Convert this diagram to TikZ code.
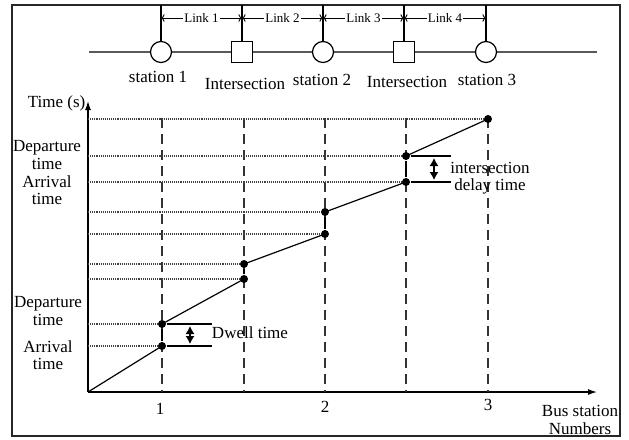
\documentclass[tikz,border=0pt]{standalone}
\usepackage{fontspec}
\setmainfont{Liberation Serif}
\usetikzlibrary{arrows.meta}

\tikzset{
  stn/.style={draw,circle,minimum size=21pt,inner sep=0pt,fill=white},
  isect/.style={draw,rectangle,minimum size=21pt,inner sep=0pt,fill=white},
  pt/.style={circle,fill,inner sep=0pt,minimum size=8pt},
  guide/.style={dash pattern=on 10pt off 6pt,line width=1.2pt,black!80},
  level/.style={densely dotted,line width=1.1pt,black!75},
  span/.style={{Latex[length=8pt,width=9pt]}-{Latex[length=8pt,width=9pt]}},
  lbl/.style={font=\fontsize{17}{17.5}\selectfont,align=center,inner sep=0pt},
  linklbl/.style={font=\fontsize{13}{14}\selectfont,fill=white,inner sep=1pt},
}

\begin{document}
\begin{tikzpicture}[x=1pt,y=-1pt,line width=1.2pt]

\useasboundingbox (0,0) rectangle (629,439);
\draw[black!85] (12,5) rectangle (620,436);

% the road
\draw[black!65,line width=1.6pt] (89,52) -- (597,52);
\node[stn] (s1) at (161,52) {};
\node[isect] (i1) at (242,52) {};
\node[stn] (s2) at (323,52) {};
\node[isect] (i2) at (404,52) {};
\node[stn] (s3) at (486,52) {};

\coordinate (t1) at (161,5);
\coordinate (t2) at (242,5);
\coordinate (t3) at (323,5);
\coordinate (t4) at (404,5);
\coordinate (t5) at (486,5);
\draw (s1.north) -- (t1);
\draw (i1.north) -- (t2);
\draw (s2.north) -- (t3);
\draw (i2.north) -- (t4);
\draw (s3.north) -- (t5);

\coordinate (a1) at (161,18);
\coordinate (a2) at (242,18);
\coordinate (a3) at (323,18);
\coordinate (a4) at (404,18);
\coordinate (a5) at (486,18);
\draw[{To}-{To},line width=0.9pt] (a1) -- node[linklbl] (l1) {Link 1} (a2);
\draw[{To}-{To},line width=0.9pt] (a2) -- node[linklbl] (l2) {Link 2} (a3);
\draw[{To}-{To},line width=0.9pt] (a3) -- node[linklbl] (l3) {Link 3} (a4);
\draw[{To}-{To},line width=0.9pt] (a4) -- node[linklbl] (l4) {Link 4} (a5);

\node[lbl] (n1) at (158,77) {station 1};
\node[lbl] (n2) at (245,84) {Intersection};
\node[lbl] (n3) at (322,80) {station 2};
\node[lbl] (n4) at (407,82) {Intersection};
\node[lbl] (n5) at (487,80) {station 3};

% axes
\coordinate (O) at (88,392);
\coordinate (xend) at (597,392);
\coordinate (yend) at (88,101);
\draw[-{Latex[length=9pt,width=6pt]}] (O) -- (xend);
\draw[-{Latex[length=9pt,width=6pt]}] (O) -- (yend);

\node[lbl,anchor=east] (ty) at (86,103) {Time (s)};
\node[lbl] (x1) at (160,409) {1};
\node[lbl] (x2) at (325,407) {2};
\node[lbl] (x3) at (488,405) {3};
\node[lbl] (xl) at (580,420) {Bus station\\Numbers};

% guide lines
\foreach \gx in {162,244,325,406,488}
  \draw[guide] (\gx,118) -- (\gx,392);

% arrival / departure points
\node[pt] (p1a) at (162,346) {};
\node[pt] (p1d) at (162,324) {};
\node[pt] (p2a) at (244,279) {};
\node[pt] (p2d) at (244,264) {};
\node[pt] (p3a) at (325,234) {};
\node[pt] (p3d) at (325,212) {};
\node[pt] (p4a) at (406,182) {};
\node[pt] (p4d) at (406,156) {};
\node[pt] (p5) at (488,119) {};

\foreach \p in {p1a,p1d,p2a,p2d,p3a,p3d,p4a,p4d,p5}
  \draw[level] (O |- \p) -- (\p);

\draw (O) -- (p1a.center);
\draw (p1d.center) -- (p2a.center);
\draw (p2d.center) -- (p3a.center);
\draw (p3d.center) -- (p4a.center);
\draw (p4d.center) -- (p5.center);
\draw[line width=2.2pt] (p1a) -- (p1d);
\draw[line width=2.2pt] (p2a) -- (p2d);
\draw[line width=2.2pt] (p3a) -- (p3d);
\draw[line width=2.2pt] (p4a) -- (p4d);

% dwell time
\coordinate (d1) at (212,324);
\coordinate (d2) at (212,346);
\draw (p1d) -- (d1);
\draw (p1a) -- (d2);
\draw[span] (190,326) -- (190,344);
\node[lbl] (dw) at (250,333) {Dwell time};

% intersection delay
\coordinate (e1) at (451,156);
\coordinate (e2) at (451,182);
\draw (p4d) -- (e1);
\draw (p4a) -- (e2);
\draw[span] (434,158) -- (434,180);
\node[lbl] (dl) at (490,178) {intersection\\delay time};

% left labels
\node[lbl] (dep1) at (47,155) {Departure\\time};
\node[lbl] (arr1) at (47,190) {Arrival\\time};
\node[lbl] (dep2) at (48,311) {Departure\\time};
\node[lbl] (arr2) at (48,355) {Arrival\\time};

\end{tikzpicture}
\end{document}
